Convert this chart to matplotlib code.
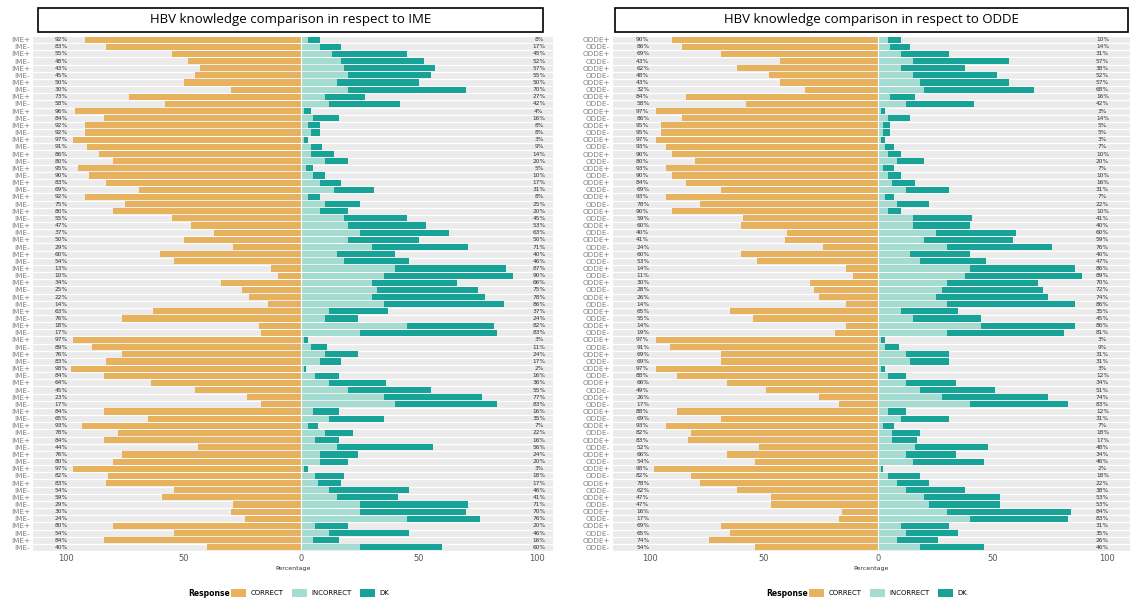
import numpy as np
import matplotlib
matplotlib.use("Agg")
import matplotlib.pyplot as plt
from matplotlib.patches import Patch, Rectangle

# Share of each response per question (rows alternate "+" / "-" groups)
ime_correct = [92, 83, 55, 48, 43, 45, 50, 30, 73, 58,
               96, 84, 92, 92, 97, 91, 86, 80, 95, 90,
               83, 69, 92, 75, 80, 55, 47, 37, 50, 29,
               60, 54, 13, 10, 34, 25, 22, 14, 63, 76,
               18, 17, 97, 89, 76, 83, 98, 84, 64, 45,
               23, 17, 84, 65, 93, 78, 84, 44, 76, 80,
               97, 82, 83, 54, 59, 29, 30, 24, 80, 54,
               84, 40]
ime_incorrect = [3, 8, 13, 17, 18, 20, 15, 20, 10, 12,
                 1, 5, 3, 4, 1, 4, 4, 10, 2, 5,
                 8, 14, 3, 10, 8, 18, 20, 25, 20, 30,
                 15, 18, 40, 35, 30, 32, 30, 35, 12, 10,
                 45, 25, 1, 4, 10, 8, 1, 6, 12, 20,
                 35, 40, 5, 12, 3, 10, 6, 15, 8, 8,
                 1, 6, 7, 12, 15, 25, 25, 45, 6, 12,
                 5, 25]

odde_correct = [90, 86, 69, 43, 62, 48, 43, 32, 84, 58,
                97, 86, 95, 95, 97, 93, 90, 80, 93, 90,
                84, 69, 93, 78, 90, 59, 60, 40, 41, 24,
                60, 53, 14, 11, 30, 28, 26, 14, 65, 55,
                14, 19, 97, 91, 69, 69, 97, 88, 66, 49,
                26, 17, 88, 69, 93, 82, 83, 52, 66, 54,
                98, 82, 78, 62, 47, 47, 16, 17, 69, 65,
                74, 54]
odde_incorrect = [4, 5, 10, 15, 10, 15, 18, 20, 5, 12,
                  1, 4, 2, 2, 1, 3, 4, 8, 2, 4,
                  6, 12, 3, 8, 4, 15, 15, 25, 20, 30,
                  14, 18, 40, 38, 30, 28, 25, 30, 10, 15,
                  45, 30, 1, 3, 12, 14, 1, 4, 12, 18,
                  28, 40, 4, 10, 2, 6, 6, 16, 12, 15,
                  1, 4, 8, 12, 20, 22, 30, 40, 10, 12,
                  8, 18]

responses = ["CORRECT", "INCORRECT", "DK"]
colors = ["#E8B15E", "#A5DCD1", "#17A398"]
xticks = [-100, -50, 0, 50, 100]
xtick_labels = ["100", "50", "0", "50", "100"]


def draw_panel(ax, prefix, correct, incorrect, xlim, lab_left, lab_right):
    correct = np.array(correct)
    incorrect = np.array(incorrect)
    dk = 100 - correct - incorrect
    n = len(correct)
    y = np.arange(n)
    ax.set_facecolor("#EBEBEB")
    for yy in np.arange(-0.5, n, 1.0):
        ax.axhline(yy, color="white", lw=0.9, zorder=1)
    ax.barh(y, -correct, height=0.86, color=colors[0], zorder=2)
    ax.barh(y, incorrect, height=0.86, color=colors[1], zorder=2)
    ax.barh(y, dk, left=incorrect, height=0.86, color=colors[2], zorder=2)
    ax.axvline(0, color="white", lw=0.8, zorder=3)
    for i in range(n):
        ax.text(lab_left, i, f"{correct[i]}%", fontsize=4.2, ha="center",
                va="center", color="#333333", zorder=4)
        ax.text(lab_right, i, f"{100 - correct[i]}%", fontsize=4.2,
                ha="center", va="center", color="#333333", zorder=4)
    labels = [f"{prefix}+" if i % 2 == 0 else f"{prefix}-" for i in range(n)]
    ax.set_yticks(y)
    ax.set_yticklabels(labels, fontsize=5.2, color="#808080")
    ax.set_ylim(n - 0.5, -0.5)
    ax.set_xlim(*xlim)
    ax.set_xticks(xticks)
    ax.set_xticklabels(xtick_labels, fontsize=6, color="#555555")
    ax.tick_params(length=0, pad=2)
    ax.set_xlabel("Percentage", fontsize=4.5, color="#333333", labelpad=2)
    for s in ax.spines.values():
        s.set_visible(False)


fig = plt.figure(figsize=(11.35, 6.01), dpi=100)
W, H = 1135, 601

ax1 = fig.add_axes([33 / W, 1 - 551 / H, 520 / W, 515 / H])
draw_panel(ax1, "IME", ime_correct, ime_incorrect, (-114, 107), -102, 101)

ax2 = fig.add_axes([613 / W, 1 - 551 / H, 517 / W, 515 / H])
draw_panel(ax2, "ODDE", odde_correct, odde_incorrect, (-116, 110), -103, 98)

# Boxed panel titles
titles = ["HBV knowledge comparison in respect to IME",
          "HBV knowledge comparison in respect to ODDE"]
boxes = [(38, 543), (615, 1128)]
for t, (x0, x1) in zip(titles, boxes):
    fig.patches.append(Rectangle((x0 / W, 1 - 32 / H), (x1 - x0) / W, 24 / H,
                                 transform=fig.transFigure, fill=False,
                                 edgecolor="black", lw=1.2))
    fig.text((x0 + x1) / 2 / W, 1 - 20 / H, t, ha="center", va="center",
             fontsize=9.5, family="Open Sans")

# Legends under each panel
handles = [Patch(facecolor=c, edgecolor="none") for c in colors]
for cx in (300, 878):
    fig.text((cx - 70) / W, 1 - 593 / H, "Response", fontsize=5.5,
             fontweight="bold", ha="right", va="center")
    fig.legend(handles, responses, loc="center", ncol=3,
               bbox_to_anchor=((cx + 10) / W, 1 - 593 / H), frameon=False,
               fontsize=5, handlelength=2.2, handleheight=1.4,
               columnspacing=1.2, handletextpad=0.6)

fig.savefig("out.png", dpi=100)
